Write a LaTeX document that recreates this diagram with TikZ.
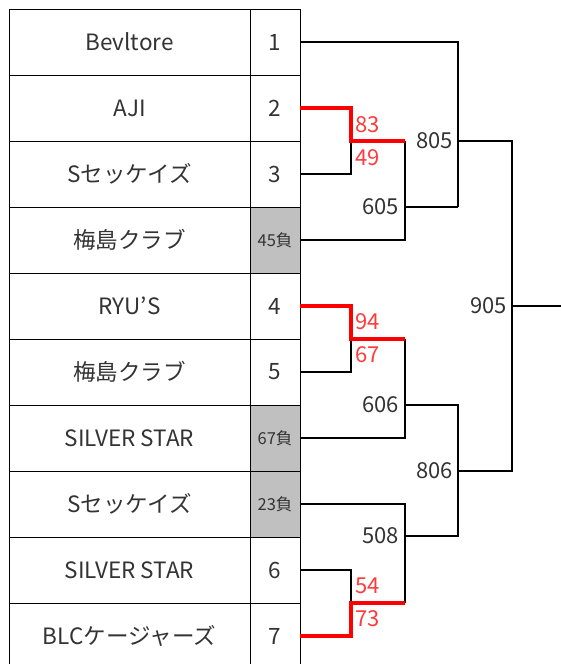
\documentclass[tikz,border=0pt]{standalone}
\usepackage{fontspec}
\setmainfont{Noto Sans CJK JP}
\definecolor{txt}{HTML}{333333}
\definecolor{cellgray}{HTML}{C0C0C0}
\definecolor{redline}{HTML}{FF0000}
\definecolor{redtxt}{HTML}{FF3B3B}
\tikzset{
  namecell/.style={draw=black, line width=0.9pt, minimum width=241pt, minimum height=66pt, inner sep=0pt, text=txt, font=\fontsize{22.5}{24}\selectfont},
  numcell/.style={draw=black, line width=0.9pt, minimum width=50pt, minimum height=66pt, inner sep=0pt, text=txt, font=\fontsize{22.5}{24}\selectfont},
  losecell/.style={numcell, fill=cellgray, font=\fontsize{16.5}{18}\selectfont},
  wire/.style={draw=black, line width=2pt},
  winwire/.style={draw=redline, line width=4pt},
  score/.style={text=redtxt, font=\fontsize{22}{24}\selectfont, inner sep=0pt, anchor=west},
  match/.style={text=txt, font=\fontsize{22}{24}\selectfont, inner sep=0pt, anchor=east}
}
\begin{document}
\begin{tikzpicture}[x=1pt,y=-1pt]
\useasboundingbox (0,0) rectangle (561,664);
\fill[white] (0,0) rectangle (561,664);
% table
\node[namecell] (t1) at (129.5,42) {Bevltore};
\node[namecell] (t2) at (129.5,108) {AJI};
\node[namecell] (t3) at (129.5,174) {Sセッケイズ};
\node[namecell] (t4) at (129.5,240) {梅島クラブ};
\node[namecell] (t5) at (129.5,306) {RYU’S};
\node[namecell] (t6) at (129.5,372) {梅島クラブ};
\node[namecell] (t7) at (129.5,438) {SILVER STAR};
\node[namecell] (t8) at (129.5,504) {Sセッケイズ};
\node[namecell] (t9) at (129.5,570) {SILVER STAR};
\node[namecell] (t10) at (129.5,636) {BLCケージャーズ};
\node[numcell] (n1) at (275,42) {1};
\node[numcell] (n2) at (275,108) {2};
\node[numcell] (n3) at (275,174) {3};
\node[losecell] (n4) at (275,240) {45負};
\node[numcell] (n5) at (275,306) {4};
\node[numcell] (n6) at (275,372) {5};
\node[losecell] (n7) at (275,438) {67負};
\node[losecell] (n8) at (275,504) {23負};
\node[numcell] (n9) at (275,570) {6};
\node[numcell] (n10) at (275,636) {7};
% junction coordinates
\coordinate (a1) at (351,141); \coordinate (w1) at (405,141);
\coordinate (a2) at (351,339); \coordinate (w2) at (405,339);
\coordinate (a3) at (351,603); \coordinate (w3) at (405,603);
\coordinate (m605) at (405,207); \coordinate (m606) at (405,405); \coordinate (m508) at (405,536);
\coordinate (m805) at (458,141); \coordinate (m806) at (458,471);
\coordinate (m905) at (512,306); \coordinate (fin) at (561,306);
% black wires
\draw[wire] (n3.east) -| (a1);
\draw[wire] (n4.east) -| (w1);
\draw[wire] (m605) -- (m605 -| m805);
\draw[wire] (n1.east) -| (m605 -| m805);
\draw[wire] (m805) -| (m806 -| m905) -- (m806);
\draw[wire] (m905) -- (fin);
\draw[wire] (n6.east) -| (a2);
\draw[wire] (n7.east) -| (w2);
\draw[wire] (m606) -- (m606 -| m806) -- (m508 -| m806) -- (m508);
\draw[wire] (n8.east) -| (w3);
\draw[wire] (n9.east) -| (a3);
% red wires
\draw[winwire] (n2.east) -| (a1) -- (w1);
\draw[winwire] (n5.east) -| (a2) -- (w2);
\draw[winwire] (n10.east) -| (a3) -- (w3);
% labels
\node[score] (s83) at (355,125) {83};
\node[score] (s49) at (355,158) {49};
\node[score] (s94) at (355,322) {94};
\node[score] (s67) at (355,355) {67};
\node[score] (s54) at (355,586) {54};
\node[score] (s73) at (355,619) {73};
\node[match] (l805) at (453,141) {805};
\node[match] (l605) at (399,207) {605};
\node[match] (l905) at (507,306) {905};
\node[match] (l606) at (399,405) {606};
\node[match] (l806) at (453,471) {806};
\node[match] (l508) at (399,536) {508};
\end{tikzpicture}
\end{document}
